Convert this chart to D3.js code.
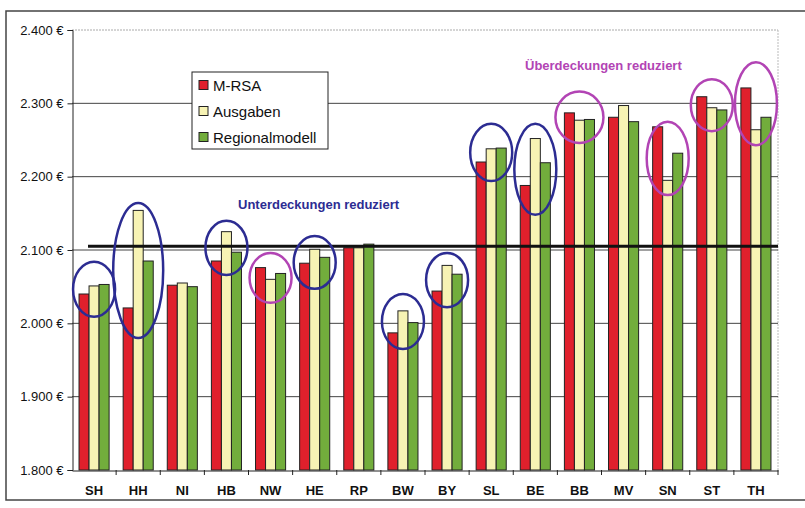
<!DOCTYPE html>
<html>
<head>
<meta charset="utf-8">
<script src="https://cdn.jsdelivr.net/npm/d3@7"></script>
<style>
  body { margin: 0; background: #fff; }
  svg { display: block; font-family: "Liberation Sans", Arial, sans-serif; }
</style>
</head>
<body>
<div id="chart"></div>
<script>
// Bundesländer
const laender = ["SH", "HH", "NI", "HB", "NW", "HE", "RP", "BW", "BY", "SL", "BE", "BB", "MV", "SN", "ST", "TH"]
const seriesNames = ["M-RSA", "Ausgaben", "Regionalmodell"]

// values in Euro
const mrsa     = [2040, 2021, 2052, 2085, 2076, 2082, 2103, 1987, 2044, 2220, 2188, 2287, 2281, 2268, 2309, 2321]
const ausgaben = [2051, 2154, 2055, 2125, 2060, 2101, 2103, 2017, 2079, 2238, 2252, 2277, 2297, 2195, 2294, 2264]
const regional = [2053, 2085, 2050, 2097, 2068, 2090, 2108, 2001, 2067, 2239, 2219, 2278, 2275, 2232, 2291, 2281]

const yTicks = [1800, 1900, 2000, 2100, 2200, 2300, 2400]
const durchschnitt = 2105

// circled groups: land, upper and lower value of the ellipse, kind
const circleLand  = ["SH", "HH", "HB", "NW", "HE", "BW", "BY", "SL", "BE", "BB", "SN", "ST", "TH"]
const circleTop   = [2084, 2164, 2140, 2096, 2119, 2040, 2096, 2272, 2272, 2316, 2275, 2333, 2356]
const circleBot   = [2009, 1980, 2066, 2028, 2047, 1965, 2022, 2194, 2148, 2246, 2175, 2262, 2243]
const circleKind  = ["u", "u", "u", "o", "u", "u", "u", "u", "u", "o", "o", "o", "o"]

const colors = {"M-RSA": "#e0202c", "Ausgaben": "#f7f3b4", "Regionalmodell": "#72ad3c"}
const ringColors = {u: "#2c2c92", o: "#b244b4"}

const W = 805, H = 508
const svg = d3.select("#chart").append("svg").attr("width", W).attr("height", H)

// outer frame
svg.append("rect").attr("x", 6).attr("y", 11).attr("width", 820).attr("height", 489)
    .attr("fill", "#fff").attr("stroke", "#444").attr("stroke-width", 1.5)

const x0 = d3.scaleBand().domain(laender).range([72, 778]).padding(0)
const x1 = d3.scaleBand().domain(seriesNames).range([0, x0.bandwidth()]).paddingInner(0).paddingOuter(0.7)
const y = d3.scaleLinear().domain([1800, 2400]).range([470, 30])

// plot area border (light)
svg.append("line").attr("x1", 72).attr("x2", 778).attr("y1", y(2400)).attr("y2", y(2400))
    .attr("stroke", "#aaa").attr("stroke-dasharray", "2,1")
svg.append("line").attr("x1", 778).attr("x2", 778).attr("y1", y(2400)).attr("y2", y(1800))
    .attr("stroke", "#bbb").attr("stroke-dasharray", "2,1")

// gridlines
svg.append("g").selectAll("line")
    .data(yTicks.filter(d => d > 1800 && d < 2400))
    .enter().append("line")
    .attr("x1", 72).attr("x2", 778)
    .attr("y1", d => y(d)).attr("y2", d => y(d))
    .attr("stroke", "#444").attr("stroke-width", 1)

// bars
const rows = laender.map((l, i) => ({land: l, values: [mrsa[i], ausgaben[i], regional[i]]}))
const groups = svg.append("g").selectAll("g")
    .data(rows)
    .enter().append("g")
    .attr("transform", d => "translate(" + x0(d.land) + ",0)")

groups.selectAll("rect")
    .data(d => d.values.map((v, k) => ({name: seriesNames[k], value: v})))
    .enter().append("rect")
    .attr("x", d => x1(d.name))
    .attr("width", x1.bandwidth())
    .attr("y", d => y(d.value))
    .attr("height", d => y(1800) - y(d.value))
    .attr("fill", d => colors[d.name])
    .attr("stroke", "#222")
    .attr("stroke-width", 1)

// average line
svg.append("line")
    .attr("x1", 88).attr("x2", 778)
    .attr("y1", y(durchschnitt)).attr("y2", y(durchschnitt))
    .attr("stroke", "#111").attr("stroke-width", 3)

// y axis
const yAxis = svg.append("g").attr("transform", "translate(72.5,0)")
    .call(d3.axisLeft(y).tickValues(yTicks).tickSize(5).tickPadding(4)
        .tickFormat(d => d3.format(",")(d).replace(",", ".") + " €"))
yAxis.select(".domain").attr("stroke", "#222")
yAxis.selectAll("line").attr("stroke", "#222")
yAxis.selectAll("text").attr("font-size", 13).attr("fill", "#111")
    .attr("font-family", "'Liberation Sans', Arial, sans-serif")

// x axis
const xAxis = svg.append("g").attr("transform", "translate(0," + (y(1800) + 0.5) + ")")
    .call(d3.axisBottom(x0).tickSize(0).tickPadding(15))
xAxis.select(".domain").attr("stroke", "#222")
xAxis.selectAll("text").attr("font-size", 13).attr("font-weight", "bold").attr("fill", "#111")
    .attr("font-family", "'Liberation Sans', Arial, sans-serif")
svg.append("g").selectAll("line")
    .data(laender.slice(1).concat(["end"]))
    .enter().append("line")
    .attr("x1", (d, i) => x0.range()[0] + x0.step() * (i + 1))
    .attr("x2", (d, i) => x0.range()[0] + x0.step() * (i + 1))
    .attr("y1", y(1800)).attr("y2", y(1800) + 5)
    .attr("stroke", "#222")

// ellipses
svg.append("g").selectAll("ellipse")
    .data(circleLand.map((l, i) => ({land: l, top: circleTop[i], bot: circleBot[i], kind: circleKind[i]})))
    .enter().append("ellipse")
    .attr("cx", d => x0(d.land) + x0.bandwidth() / 2)
    .attr("cy", d => (y(d.top) + y(d.bot)) / 2)
    .attr("rx", d => d.land === "HH" ? 25 : (d.land === "BB" ? 24 : 21))
    .attr("ry", d => (y(d.bot) - y(d.top)) / 2)
    .attr("fill", "none")
    .attr("stroke", d => ringColors[d.kind])
    .attr("stroke-width", 2.5)

// annotations
svg.append("text").attr("x", 238).attr("y", 209)
    .attr("font-size", 13).attr("font-weight", "bold").attr("fill", ringColors.u)
    .text("Unterdeckungen reduziert")
svg.append("text").attr("x", 525).attr("y", 70)
    .attr("font-size", 13).attr("font-weight", "bold").attr("fill", ringColors.o)
    .text("Überdeckungen reduziert")

// legend
const legend = svg.append("g").attr("transform", "translate(192,72)")
legend.append("rect").attr("width", 136).attr("height", 77)
    .attr("fill", "#fff").attr("stroke", "#222").attr("stroke-width", 1)
const item = legend.selectAll("g.item")
    .data(seriesNames)
    .enter().append("g").attr("class", "item")
    .attr("transform", (d, i) => "translate(7," + (13 + i * 26) + ")")
item.append("rect").attr("x", 0).attr("y", -4.5).attr("width", 9).attr("height", 9)
    .attr("fill", d => colors[d]).attr("stroke", "#222")
item.append("text").attr("x", 14).attr("y", 5.5)
    .attr("font-size", 15).attr("fill", "#111")
    .text(d => d)
</script>
</body>
</html>
